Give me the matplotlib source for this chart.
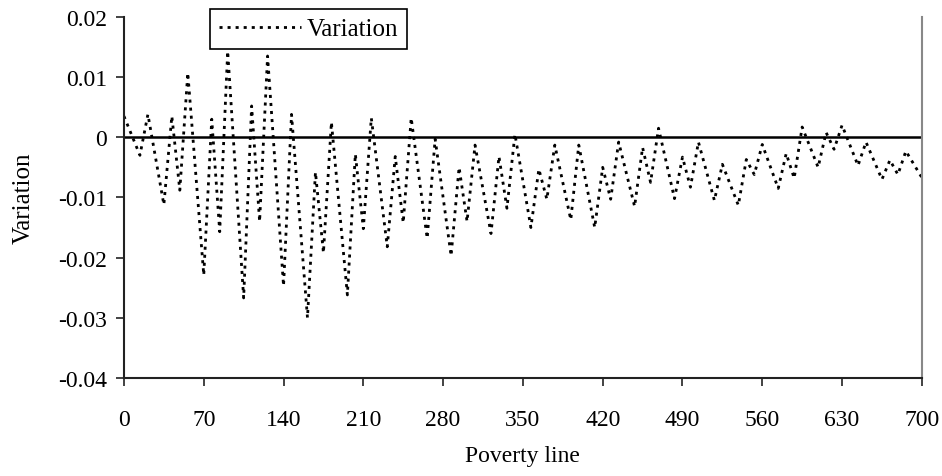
import numpy as np
import matplotlib.pyplot as plt

# poverty line values at the turning points of the series
pov = [0, 14, 21, 35, 42, 49, 56, 70, 77, 84, 91, 105, 112, 119, 126, 140,
       147, 161, 168, 175, 182, 196, 203, 210, 217, 231, 238, 245, 252, 266,
       273, 287, 294, 301, 308, 322, 329, 336, 343, 357, 364, 371, 378, 392,
       399, 413, 420, 427, 434, 448, 455, 462, 469, 483, 490, 497, 504, 518,
       525, 539, 546, 553, 560, 574, 581, 588, 595, 609, 616, 623, 630, 644,
       651, 665, 672, 679, 686, 700]
variation = [0.0035, -0.003, 0.0038, -0.0112, 0.0035, -0.0088, 0.0107, -0.0229,
             0.003, -0.0157, 0.0143, -0.0267, 0.0052, -0.014, 0.0135, -0.0247,
             0.0038, -0.030, -0.0058, -0.0192, 0.0025, -0.0262, -0.0028, -0.0152,
             0.0032, -0.0182, -0.0032, -0.0142, 0.0032, -0.0168, -0.0003, -0.0197,
             -0.005, -0.014, -0.0013, -0.016, -0.0032, -0.0118, 0.0005, -0.015,
             -0.0053, -0.0103, -0.0013, -0.0137, -0.0013, -0.015, -0.005, -0.0103,
             -0.0008, -0.0115, -0.0017, -0.0075, 0.0015, -0.0102, -0.0033, -0.0083,
             -0.0008, -0.0105, -0.0045, -0.0113, -0.0037, -0.0062, -0.0012, -0.0085,
             -0.0027, -0.0068, 0.0017, -0.005, 0.0008, -0.002, 0.002, -0.0047,
             -0.0008, -0.007, -0.0038, -0.0062, -0.0023, -0.0067]
xticks = np.arange(0, 701, 70)
yticks = [0.02, 0.01, 0, -0.01, -0.02, -0.03, -0.04]
ylabels = ['0.02', '0.01', '0', '-0.01', '-0.02', '-0.03', '-0.04']

plt.rcParams['font.family'] = ['Liberation Serif', 'DejaVu Serif']

fig = plt.figure(figsize=(9.42, 4.77), dpi=100)
ax = fig.add_axes([0.1316, 0.2055, 0.847, 0.757])

ax.axhline(0, color='black', lw=1.8, zorder=1)
ax.plot(pov, variation, color='black', lw=2.0, linestyle=(0, (1.1, 1.8)),
        label='Variation', zorder=2)

ax.set_xlim(0, 700)
ax.set_ylim(-0.04, 0.02)
ax.set_xticks(xticks)
ax.set_yticks(yticks)
ax.set_yticklabels(ylabels)
ax.tick_params(labelsize=17, direction='out', length=6, width=1.2, color='#222222')
ax.tick_params(axis='x', pad=16)
ax.tick_params(axis='y', pad=6)

ax.spines['top'].set_visible(False)
ax.spines['right'].set_color('#888888')
ax.spines['right'].set_linewidth(1.5)
for s in ['left', 'bottom']:
    ax.spines[s].set_linewidth(1.5)
    ax.spines[s].set_color('#222222')

ax.set_xlabel('Poverty line', fontsize=17, labelpad=11)
ax.set_ylabel('Variation', fontsize=18, labelpad=17)

leg = ax.legend(loc='upper left', bbox_to_anchor=(210 / 942, 1 - 10 / 477),
                bbox_transform=fig.transFigure, borderaxespad=0, fontsize=18,
                handlelength=3.3, handletextpad=0.2, fancybox=False,
                framealpha=1, borderpad=0.35)
leg.get_frame().set_edgecolor('black')
leg.get_frame().set_linewidth(1.2)

fig.savefig('out.png', dpi=100)
